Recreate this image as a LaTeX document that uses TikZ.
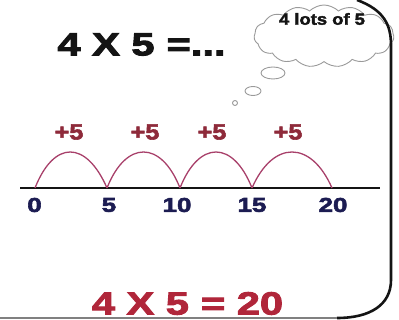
\documentclass[tikz,border=0pt]{standalone}
\usepackage{fontspec}
\usepackage{xcolor}
\usepackage{tikz}
\usetikzlibrary{shapes.geometric, shapes.symbols, positioning}

\newfontfamily\heavyfont{Liberation Sans Bold}[FakeStretch=1.3, FakeBold=3]
\newfontfamily\labelfont{Liberation Sans Bold}[FakeStretch=1.15, FakeBold=2.5]

\definecolor{inkblack}{HTML}{141414}
\definecolor{sumred}{HTML}{B0263A}
\definecolor{plusred}{HTML}{8E2A3A}
\definecolor{numblue}{HTML}{1C1C52}
\definecolor{hopred}{HTML}{A8406A}
\definecolor{cloudgray}{HTML}{9A9A9A}

\begin{document}
\begin{tikzpicture}[x=1pt, y=-1pt,
  bigsum/.style={font=\heavyfont\fontsize{32}{36}\selectfont, inner sep=0pt},
  jump/.style={font=\labelfont\fontsize{22}{24}\selectfont, text=plusred, inner sep=0pt},
  ticklabel/.style={font=\heavyfont\fontsize{20}{22}\selectfont, text=numblue, inner sep=0pt},
  hop/.style={draw=hopred, line width=1.3pt},
  axis/.style={draw=inkblack, line width=2.2pt},
  bubble/.style={ellipse, draw=cloudgray, line width=0.9pt, inner sep=0pt},
  frame/.style={draw=inkblack, line width=2.6pt}
]
\useasboundingbox (0,0) rectangle (399,320);

% thought cloud
\node[cloud, cloud puffs=15, cloud puff arc=90, aspect=2.2, draw=cloudgray, line width=0.9pt,
  minimum width=140pt, minimum height=62pt] (thought) at (324,36) {};
\node[font=\labelfont\fontsize{16}{18}\selectfont, text=inkblack, inner sep=0pt] (lots) at (322,19) {4 lots of 5};
\node[bubble, minimum width=24pt, minimum height=12pt] (bub1) at (273,73) {};
\node[bubble, minimum width=16pt, minimum height=9pt] (bub2) at (253,91) {};
\node[bubble, minimum width=5pt, minimum height=5pt] (bub3) at (235,103) {};

% frame on the right
\coordinate (ftop) at (357,0);
\coordinate (fright) at (391,45);
\coordinate (flow) at (391,280);
\coordinate (fbot) at (337,318);
\coordinate (fleft) at (0,318);
\draw[frame] (ftop) .. controls (384,10) and (391,25) .. (fright) -- (flow)
  .. controls (391,305) and (370,318) .. (fbot);
\draw[draw=gray, line width=1.6pt] (fbot) -- (fleft);

% question and answer
\node[bigsum, text=inkblack] (question) at (141.5,44.5) {4 X 5\hspace{12pt}=...};
\node[bigsum, text=sumred] (answer) at (187.5,303.5) {4 X 5\hspace{12pt}= 20};

% number line
\coordinate (lstart) at (20,188);
\coordinate (lend) at (380,188);
\coordinate (p0) at (35,188);
\coordinate (p1) at (107,188);
\coordinate (p2) at (180,188);
\coordinate (p3) at (252,188);
\coordinate (p4) at (332,188);
\draw[axis] (lstart) -- (lend);

\draw[hop] (p0) .. controls (54,140) and (86,140) .. (p1);
\draw[hop] (p1) .. controls (126,140) and (161,140) .. (p2);
\draw[hop] (p2) .. controls (199,140) and (233,140) .. (p3);
\draw[hop] (p3) .. controls (273,140) and (311,140) .. (p4);

\node[jump] (j1) at (69,132) {+5};
\node[jump] (j2) at (145,132) {+5};
\node[jump] (j3) at (212,132) {+5};
\node[jump] (j4) at (288,132) {+5};

\node[ticklabel] (n0) at (34.5,205) {0};
\node[ticklabel] (n5) at (109,205) {5};
\node[ticklabel] (n10) at (177,205) {10};
\node[ticklabel] (n15) at (252,205) {15};
\node[ticklabel] (n20) at (333,205) {20};
\end{tikzpicture}
\end{document}
